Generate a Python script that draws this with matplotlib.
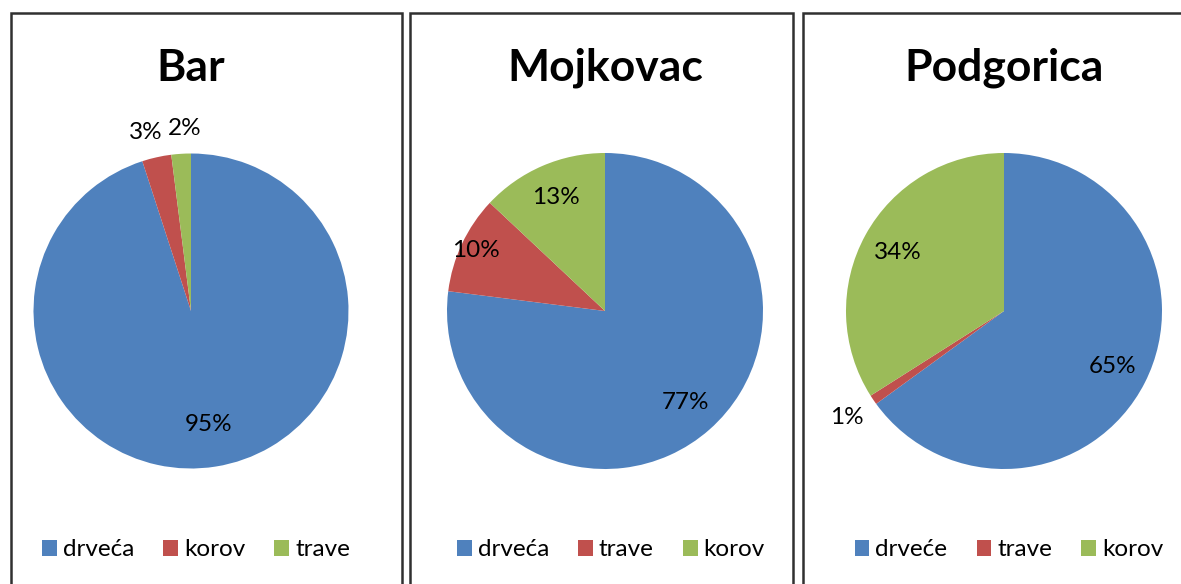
import matplotlib
matplotlib.use("Agg")
import matplotlib.pyplot as plt
from matplotlib.patches import Rectangle
import numpy as np

# ---- data ----
titles = ["Bar", "Mojkovac", "Podgorica"]
labels_bar = ["drveća", "korov", "trave"]
values_bar = [95, 3, 2]
labels_moj = ["drveća", "trave", "korov"]
values_moj = [77, 10, 13]
labels_pod = ["drveće", "trave", "korov"]
values_pod = [65, 1, 34]

# ---- style ----
W, H = 1181, 584
FONT = "Lato"
BLUE, RED, GREEN = "#4F81BD", "#C0504D", "#9BBB59"
col_bar = {"drveća": BLUE, "korov": RED, "trave": GREEN}
col_moj = {"drveća": BLUE, "trave": RED, "korov": GREEN}
col_pod = {"drveće": BLUE, "trave": RED, "korov": GREEN}

panels = [
    dict(title=titles[0], labels=labels_bar, values=values_bar, colors=col_bar,
         box=(10.5, 401.5), center=(191, 311), r=157.5, legx=196,
         dists=[0.73, 1.16, 1.16], nudge=[0, -4, 4]),
    dict(title=titles[1], labels=labels_moj, values=values_moj, colors=col_moj,
         box=(410, 793), center=(605, 311), r=158, legx=611,
         dists=[0.77, 0.9, 0.78], nudge=[0, 0, 0]),
    dict(title=titles[2], labels=labels_pod, values=values_pod, colors=col_pod,
         box=(802.5, 1200), center=(1004, 311), r=158, legx=1009,
         dists=[0.77, 1.2, 0.77], nudge=[0, 0, 0]),
]

fig = plt.figure(figsize=(W / 100, H / 100), dpi=100)
fig.patch.set_facecolor("white")

for p in panels:
    x0, x1 = p["box"]
    top = 12.5
    rect = Rectangle((x0 / W, -0.1), (x1 - x0) / W, (H - top) / H + 0.1,
                     transform=fig.transFigure, fill=False,
                     edgecolor="#303030", linewidth=1.8)
    fig.patches.append(rect)

    cx, cy = p["center"]
    r = p["r"]
    ax = fig.add_axes([(cx - r) / W, (H - cy - r) / H, 2 * r / W, 2 * r / H])
    wedges, _ = ax.pie(p["values"], colors=[p["colors"][l] for l in p["labels"]],
                       startangle=90, counterclock=False, radius=1,
                       wedgeprops=dict(linewidth=0))
    ax.set_xlim(-1, 1)
    ax.set_ylim(-1, 1)
    ax.axis("off")
    for w, v, d, n in zip(wedges, p["values"], p["dists"], p["nudge"]):
        ang = np.deg2rad((w.theta1 + w.theta2) / 2)
        ax.annotate(f"{v}%", (d * np.cos(ang), d * np.sin(ang)),
                    xytext=(n, 0), textcoords="offset points",
                    ha="center", va="center", fontsize=17.5, family=FONT,
                    color="black", annotation_clip=False)

    fig.text(cx / W, (H - 68) / H, p["title"], ha="center", va="center",
             fontsize=32, fontweight="bold", family=FONT)

    fig.legend(wedges, p["labels"], loc="center",
               bbox_to_anchor=(p["legx"] / W, (H - 550) / H),
               ncol=3, frameon=False, prop=dict(family=FONT, size=17.5),
               handlelength=0.6, handleheight=0.6, handletextpad=0.25,
               columnspacing=1.2, borderaxespad=0)

fig.savefig("out.png", dpi=100)
